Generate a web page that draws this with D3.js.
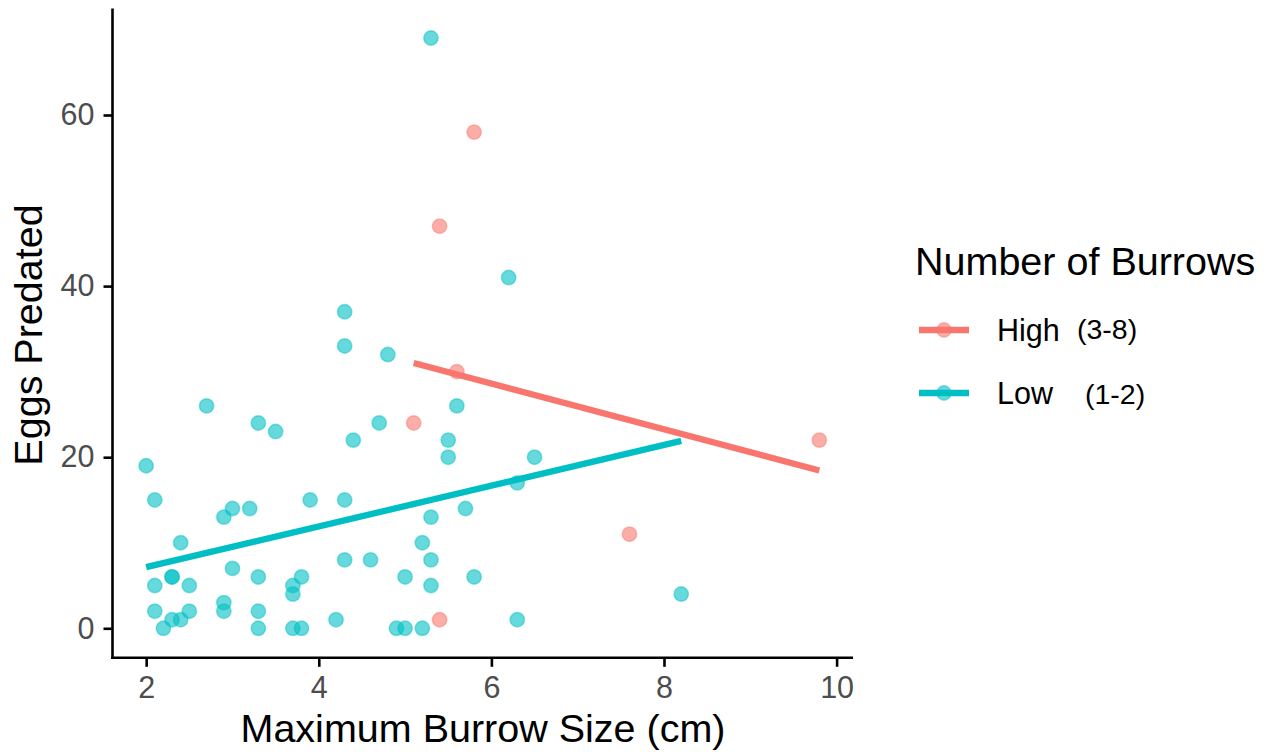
<!DOCTYPE html>
<html>
<head>
<meta charset="utf-8">
<script src="https://cdn.jsdelivr.net/npm/d3@7"></script>
<style>
  body { margin: 0; background: #fff; }
  text { font-family: "Liberation Sans", Arial, sans-serif; }
</style>
</head>
<body>
<svg id="chart" width="1272" height="754"></svg>
<script>
// data
var highX = [5.1, 5.4, 5.4, 5.6, 5.8, 7.6, 9.8];
var highY = [24, 1, 47, 30, 58, 11, 22];

var lowX = [4.3, 4.3, 4.8, 2.7, 5.6, 3.3, 3.5, 4.7, 4.4, 5.5, 5.5, 2.0, 2.1, 3.9, 4.3,
            2.9, 3.0, 3.2, 5.3, 5.7, 2.4, 5.2, 4.3, 4.6, 5.3, 3.0, 2.3, 2.3, 2.1, 2.5,
            3.3, 3.7, 3.7, 3.8, 5.0, 5.3, 5.8, 2.1, 2.5, 2.9, 2.9, 3.3, 2.3, 2.4, 2.2,
            3.3, 3.7, 3.8, 4.2, 4.9, 5.0, 5.2, 5.3, 6.2, 6.5, 6.3, 8.2, 6.3];
var lowY = [37, 33, 32, 26, 26, 24, 23, 24, 22, 22, 20, 19, 15, 15, 15,
            13, 14, 14, 13, 14, 10, 10, 8, 8, 8, 7, 6, 6, 5, 5,
            6, 5, 4, 6, 6, 5, 6, 2, 2, 3, 2, 2, 1, 1, 0,
            0, 0, 0, 1, 0, 0, 0, 69, 41, 20, 17, 4, 1];

var xTicks = [2, 4, 6, 8, 10];
var yTicks = [0, 20, 40, 60];

var groups = [
  {name: "High", range: "(3-8)", color: "#F8766D", xs: highX, ys: highY},
  {name: "Low", range: "(1-2)", color: "#00BFC4", xs: lowX, ys: lowY}
];

var svg = d3.select("#chart");

var x = d3.scaleLinear().domain([1.61, 10.19]).range([112.5, 853]);
var y = d3.scaleLinear().domain([-3.45, 72.45]).range([657.8, 8.5]);

// least squares fit, like geom_smooth(method = "lm", se = FALSE)
function fit(xs, ys) {
  var mx = d3.mean(xs), my = d3.mean(ys);
  var sxy = d3.sum(xs, (v, i) => (v - mx) * (ys[i] - my));
  var sxx = d3.sum(xs, v => (v - mx) * (v - mx));
  var b = sxy / sxx, a = my - b * mx;
  var ext = d3.extent(xs);
  return ext.map(v => ({x: v, y: a + b * v}));
}

var line = d3.line().x(d => x(d.x)).y(d => y(d.y));

// points
groups.forEach(function (g) {
  svg.append("g").selectAll("circle")
    .data(g.xs.map((v, i) => ({x: v, y: g.ys[i]})))
    .join("circle")
    .attr("cx", d => x(d.x))
    .attr("cy", d => y(d.y))
    .attr("r", 7.2)
    .attr("fill", g.color)
    .attr("fill-opacity", 0.6)
    .attr("stroke", g.color)
    .attr("stroke-opacity", 0.45)
    .attr("stroke-width", 1.5);
});

// fitted lines
groups.forEach(function (g) {
  svg.append("path")
    .attr("d", line(fit(g.xs, g.ys)))
    .attr("fill", "none")
    .attr("stroke", g.color)
    .attr("stroke-width", 6.3);
});

// axes
var xAxis = svg.append("g")
    .attr("transform", "translate(0,657.8)")
    .call(d3.axisBottom(x).tickValues(xTicks).tickSize(9).tickPadding(10).tickSizeOuter(0));

var yAxis = svg.append("g")
    .attr("transform", "translate(112.5,0)")
    .call(d3.axisLeft(y).tickValues(yTicks).tickSize(9).tickPadding(9).tickSizeOuter(0));

[xAxis, yAxis].forEach(function (a) {
  a.select(".domain").attr("stroke", "#000").attr("stroke-width", 2.6);
  a.selectAll(".tick line").attr("stroke", "#000").attr("stroke-width", 2.6);
  a.selectAll(".tick text")
    .attr("fill", "#4D4D4D")
    .style("font-size", "30.5px")
    .style("font-family", "'Liberation Sans', Arial, sans-serif");
});
xAxis.select(".domain").attr("d", "M111.2,0H853");
yAxis.select(".domain").attr("d", "M0,659.1V8.5");

// axis titles
svg.append("text")
    .attr("x", 483)
    .attr("y", 742)
    .attr("text-anchor", "middle")
    .style("font-size", "39.5px")
    .text("Maximum Burrow Size (cm)");

svg.append("text")
    .attr("transform", "translate(42,335) rotate(-90)")
    .attr("text-anchor", "middle")
    .style("font-size", "39.5px")
    .text("Eggs Predated");

// legend
var legend = svg.append("g").attr("transform", "translate(915,0)");
legend.append("text")
    .attr("x", 0)
    .attr("y", 275)
    .style("font-size", "39.5px")
    .text("Number of Burrows");

var rowY = d3.scalePoint().domain(groups.map(g => g.name)).range([330, 393]);

groups.forEach(function (g) {
  var r = legend.append("g").attr("transform", "translate(0," + rowY(g.name) + ")");
  r.append("line")
    .attr("x1", 4).attr("x2", 54)
    .attr("stroke", g.color).attr("stroke-width", 6.3);
  r.append("circle")
    .attr("cx", 29).attr("r", 7.2)
    .attr("fill", g.color).attr("fill-opacity", 0.6)
    .attr("stroke", g.color).attr("stroke-opacity", 0.45).attr("stroke-width", 1.5);
  r.append("text")
    .attr("x", 82).attr("y", 11)
    .style("font-size", "30.5px")
    .text(g.name);
});
legend.append("text").attr("x", 162).attr("y", 339).style("font-size", "28.5px").text(groups[0].range);
legend.append("text").attr("x", 170).attr("y", 404).style("font-size", "28.5px").text(groups[1].range);
</script>
</body>
</html>
